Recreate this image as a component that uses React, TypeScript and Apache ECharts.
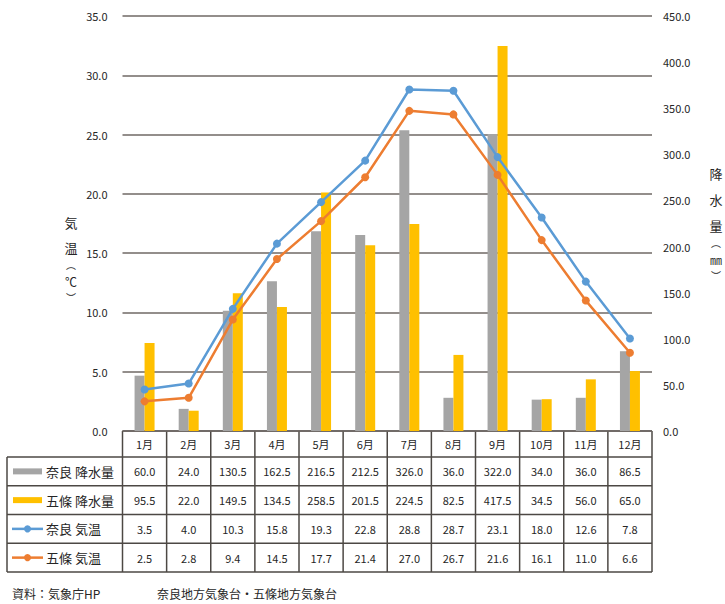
import React, { useEffect, useRef } from "react";
import * as echarts from "echarts";

// Monthly climate normals: precipitation (mm) and temperature (°C)
const months = ["1月", "2月", "3月", "4月", "5月", "6月", "7月", "8月", "9月", "10月", "11月", "12月"];
const naraRain = [60.0, 24.0, 130.5, 162.5, 216.5, 212.5, 326.0, 36.0, 322.0, 34.0, 36.0, 86.5];
const gojoRain = [95.5, 22.0, 149.5, 134.5, 258.5, 201.5, 224.5, 82.5, 417.5, 34.5, 56.0, 65.0];
const naraTemp = [3.5, 4.0, 10.3, 15.8, 19.3, 22.8, 28.8, 28.7, 23.1, 18.0, 12.6, 7.8];
const gojoTemp = [2.5, 2.8, 9.4, 14.5, 17.7, 21.4, 27.0, 26.7, 21.6, 16.1, 11.0, 6.6];
const seriesNames = ["奈良 降水量", "五條 降水量", "奈良 気温", "五條 気温"];
const tempAxis = { min: 0, max: 35, interval: 5 };
const rainAxis = { min: 0, max: 450, interval: 50 };
const tempTitle = ["気", "温", "︵", "℃", "︶"];
const rainTitle = ["降", "水", "量", "︵", "㎜", "︶"];
const sourceLeft = "資料：気象庁HP";
const sourceRight = "奈良地方気象台・五條地方気象台";

const W = 725;
const H = 604;
const GRID_L = 122.5;
const GRID_R = 652;
const GRID_T = 16;
const GRID_B = 431;
const TABLE_L = 7;
const HEADER_B = 457;
const ROW_H = 28.75;

const FONT = '"Noto Sans CJK JP", "Noto Sans", sans-serif';
const TEXT = "#262626";
const BORDER = "#4d4844";
const C_GRAY = "#a5a5a5";
const C_GOLD = "#ffc000";
const C_BLUE = "#5b9bd5";
const C_ORANGE = "#ed7d31";

function buildTable(): any[] {
  const els: any[] = [];
  const n = months.length;
  const colW = (GRID_R - GRID_L) / n;
  const rows = [naraRain, gojoRain, naraTemp, gojoTemp];
  const tableB = HEADER_B + ROW_H * rows.length;
  const line = (x1: number, y1: number, x2: number, y2: number) => ({
    type: "line",
    shape: { x1, y1, x2, y2 },
    style: { stroke: BORDER, lineWidth: 1.5 },
    silent: true,
  });
  const text = (x: number, y: number, t: string, size: number, align = "center") => ({
    type: "text",
    x,
    y,
    style: {
      text: t,
      fill: TEXT,
      fontSize: size,
      fontFamily: FONT,
      align,
      verticalAlign: "middle",
    },
    silent: true,
  });

  // table rules
  els.push(line(GRID_L, GRID_B, GRID_R, GRID_B));
  for (let r = 0; r <= rows.length; r++) {
    const y = HEADER_B + r * ROW_H;
    els.push(line(TABLE_L, y, GRID_R, y));
  }
  els.push(line(TABLE_L, HEADER_B, TABLE_L, tableB));
  for (let i = 0; i <= n; i++) {
    const x = GRID_L + i * colW;
    els.push(line(x, GRID_B, x, tableB));
  }

  // month header
  months.forEach((m, i) => {
    els.push(text(GRID_L + (i + 0.5) * colW, (GRID_B + HEADER_B) / 2, m, 11));
  });

  // legend keys + values
  rows.forEach((vals, r) => {
    const cy = HEADER_B + (r + 0.5) * ROW_H;
    if (r < 2) {
      els.push({
        type: "rect",
        shape: { x: 13, y: cy - 3, width: 29, height: 6 },
        style: { fill: r === 0 ? C_GRAY : C_GOLD },
        silent: true,
      });
    } else {
      const c = r === 2 ? C_BLUE : C_ORANGE;
      els.push({
        type: "line",
        shape: { x1: 12, y1: cy, x2: 43, y2: cy },
        style: { stroke: c, lineWidth: 2.5 },
        silent: true,
      });
      els.push({
        type: "circle",
        shape: { cx: 27.5, cy, r: 3.5 },
        style: { fill: c },
        silent: true,
      });
    }
    els.push(text(46, cy, seriesNames[r], 13, "left"));
    vals.forEach((v, i) => {
      els.push(text(GRID_L + (i + 0.5) * colW, cy, v.toFixed(1), 11));
    });
  });

  // vertical axis titles, one character per line (brackets in vertical form)
  const tempY = [222, 247, 264.5, 281, 297.5];
  const tempSize = [13, 13, 10, 12, 10];
  tempTitle.forEach((ch, i) => els.push(text(71, tempY[i], ch, tempSize[i])));
  const rainY = [173, 199, 225, 242.5, 259, 275.5];
  const rainSize = [13, 13, 13, 10, 12, 10];
  rainTitle.forEach((ch, i) => els.push(text(716, rainY[i], ch, rainSize[i])));

  // source note
  els.push(text(12, 593, sourceLeft, 12, "left"));
  els.push(text(157, 593, sourceRight, 12, "left"));
  return els;
}

export default function App() {
  const ref = useRef<HTMLDivElement>(null);

  useEffect(() => {
    if (!ref.current) return;
    const chart = echarts.init(ref.current, undefined, { renderer: "svg" });
    const fmt = (v: number) => v.toFixed(1);
    chart.setOption({
      animation: false,
      backgroundColor: "#ffffff",
      textStyle: { fontFamily: FONT },
      grid: {
        left: GRID_L,
        right: W - GRID_R,
        top: GRID_T,
        bottom: H - GRID_B,
        containLabel: false,
      },
      xAxis: {
        type: "category",
        data: months,
        axisLine: { show: false },
        axisTick: { show: false },
        axisLabel: { show: false },
        splitLine: { show: false },
      },
      yAxis: [
        {
          type: "value",
          ...tempAxis,
          axisLine: { show: false },
          axisTick: { show: false },
          axisLabel: { formatter: fmt, color: TEXT, fontSize: 11, margin: 15, fontFamily: FONT },
          splitLine: { show: true, lineStyle: { color: "#6f6964", width: 1.5 } },
        },
        {
          type: "value",
          ...rainAxis,
          position: "right",
          axisLine: { show: false },
          axisTick: { show: false },
          axisLabel: { formatter: fmt, color: TEXT, fontSize: 11, margin: 11, fontFamily: FONT },
          splitLine: { show: false },
        },
      ],
      series: [
        {
          name: seriesNames[0],
          type: "bar",
          yAxisIndex: 1,
          data: naraRain,
          barWidth: 10,
          barGap: "0%",
          itemStyle: { color: C_GRAY },
        },
        {
          name: seriesNames[1],
          type: "bar",
          yAxisIndex: 1,
          data: gojoRain,
          barWidth: 10,
          barGap: "0%",
          itemStyle: { color: C_GOLD },
        },
        {
          name: seriesNames[2],
          type: "line",
          yAxisIndex: 0,
          data: naraTemp,
          symbol: "circle",
          symbolSize: 8,
          lineStyle: { color: C_BLUE, width: 2.5 },
          itemStyle: { color: C_BLUE },
          z: 3,
        },
        {
          name: seriesNames[3],
          type: "line",
          yAxisIndex: 0,
          data: gojoTemp,
          symbol: "circle",
          symbolSize: 8,
          lineStyle: { color: C_ORANGE, width: 2.5 },
          itemStyle: { color: C_ORANGE },
          z: 3,
        },
      ],
      graphic: buildTable(),
    });
    return () => chart.dispose();
  }, []);

  return (
    <div
      ref={ref}
      style={{ position: "fixed", left: 0, top: 0, width: W, height: H }}
    />
  );
}
